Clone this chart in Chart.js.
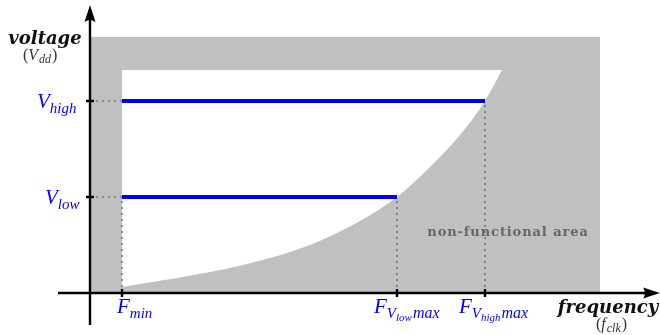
<!DOCTYPE html>
<html>
<head>
<meta charset="utf-8">
<script src="https://cdn.jsdelivr.net/npm/chart.js@4"></script>
<style>
  html, body { margin: 0; padding: 0; background: #fff; }
  #wrap { width: 660px; height: 335px; }
</style>
</head>
<body>
<div id="wrap"><canvas id="fv" width="660" height="335"></canvas></div>
<script>
// operating range of the clock (arbitrary units, origin at the axes crossing)
var fMin = 32
var fVlowMax = 307
var fVhighMax = 395
var vLow = 96
var vHigh = 192
var vTop = 223        // upper edge of the functional region
var areaWidth = 510   // extent of the grey shaded box
var areaHeight = 256

// max frequency boundary: voltage needed for each frequency
var boundaryFreq = [32, 87, 153, 220, 270, 307, 340, 370, 395, 412]
var boundaryVolt = [6, 15, 28, 48, 72, 96, 126, 158, 192, 223]

var freqTicks = [fMin, fVlowMax, fVhighMax]
var voltTicks = [vLow, vHigh]

var pts = (xs, ys) => xs.map((x, i) => ({x: x, y: ys[i]}))

var blue = "#0000ff"
var dotted = {borderColor: "#555", borderWidth: 1.2, borderDash: [2, 4], pointRadius: 0, fill: false, order: 3}

var serif = "'Liberation Serif', 'DejaVu Serif', serif"
var wide = "'DejaVu Serif', serif"

// text with a subscript, optionally with a nested subscript part
function subText(ctx, x, y, main, sub, color, size, subsub, tail) {
  ctx.fillStyle = color
  ctx.textBaseline = "alphabetic"
  ctx.textAlign = "left"
  ctx.font = "italic " + size + "px " + serif
  ctx.fillText(main, x, y)
  x += ctx.measureText(main).width
  var ss = Math.round(size * 0.7)
  ctx.font = "italic " + ss + "px " + serif
  ctx.fillText(sub, x, y + size * 0.25)
  x += ctx.measureText(sub).width
  if (subsub) {
    ctx.font = "italic " + Math.round(ss * 0.75) + "px " + serif
    ctx.fillText(subsub, x, y + size * 0.4)
    x += ctx.measureText(subsub).width
  }
  if (tail) {
    ctx.font = "italic " + (ss + 1) + "px " + serif
    ctx.fillText(tail, x + 1, y + size * 0.25)
  }
}

// "(X_sub)" under an axis title
function unitText(ctx, x, y, sym, sub) {
  ctx.fillStyle = "#333"
  ctx.textAlign = "left"
  ctx.font = "16px " + serif
  ctx.fillText("(", x, y); x += ctx.measureText("(").width
  ctx.font = "italic 16px " + serif
  ctx.fillText(sym, x, y); x += ctx.measureText(sym).width + 1
  ctx.font = "italic 12px " + serif
  ctx.fillText(sub, x, y + 3); x += ctx.measureText(sub).width + 1
  ctx.font = "16px " + serif
  ctx.fillText(")", x, y)
}

var axesPlugin = {
  id: "axes",
  afterDatasetsDraw(chart) {
    var ctx = chart.ctx
    var sx = chart.scales.x, sy = chart.scales.y
    var ox = sx.getPixelForValue(0), oy = sy.getPixelForValue(0)
    ctx.save()
    ctx.strokeStyle = "#000"
    ctx.fillStyle = "#000"
    ctx.lineWidth = 2.4
    ctx.beginPath()
    ctx.moveTo(ox, sy.getPixelForValue(-32))
    ctx.lineTo(ox, sy.getPixelForValue(276))
    ctx.moveTo(sx.getPixelForValue(-32), oy)
    ctx.lineTo(sx.getPixelForValue(558), oy)
    ctx.stroke()
    // arrow heads
    var top = sy.getPixelForValue(288), right = sx.getPixelForValue(570)
    ctx.beginPath()
    ctx.moveTo(ox, top)
    ctx.lineTo(ox - 5.5, top + 17)
    ctx.quadraticCurveTo(ox, top + 13, ox + 5.5, top + 17)
    ctx.closePath()
    ctx.fill()
    ctx.beginPath()
    ctx.moveTo(right, oy)
    ctx.lineTo(right - 17, oy - 5.5)
    ctx.quadraticCurveTo(right - 13, oy, right - 17, oy + 5.5)
    ctx.closePath()
    ctx.fill()
    // tick marks
    ctx.beginPath()
    voltTicks.forEach(v => {
      var p = sy.getPixelForValue(v)
      ctx.moveTo(ox - 4, p); ctx.lineTo(ox + 4, p)
    })
    freqTicks.forEach(f => {
      var p = sx.getPixelForValue(f)
      ctx.moveTo(p, oy - 4); ctx.lineTo(p, oy + 4)
    })
    ctx.stroke()

    // axis titles
    ctx.fillStyle = "#111"
    ctx.textAlign = "center"
    ctx.textBaseline = "alphabetic"
    ctx.font = "italic bold 18px " + wide
    ctx.fillText("voltage", 45, 44)
    ctx.fillText("frequency", 608, 313)
    unitText(ctx, 23, 60, "V", "dd")
    unitText(ctx, 596, 329, "f", "clk")

    // value labels
    subText(ctx, 37, sy.getPixelForValue(vHigh) + 7, "V", "high", blue, 21)
    subText(ctx, 45, sy.getPixelForValue(vLow) + 7, "V", "low", blue, 21)
    subText(ctx, 117, 313, "F", "min", blue, 21)
    subText(ctx, 374, 313, "F", "V", blue, 21, "low", "max")
    subText(ctx, 459, 313, "F", "V", blue, 21, "high", "max")

    ctx.fillStyle = "#666"
    ctx.textAlign = "center"
    ctx.font = "bold 13px " + wide
    ctx.letterSpacing = "0.9px"
    ctx.fillText("non-functional area", 508, 236)
    ctx.restore()
  }
}

new Chart("fv", {
  type: "line",
  data: {
    datasets: [
      {
        // shaded box behind everything
        data: pts([0, areaWidth], [areaHeight, areaHeight]),
        borderWidth: 0, pointRadius: 0,
        backgroundColor: "#c0c0c0", fill: "origin", order: 6
      },
      {
        // functional region: above the boundary curve, below vTop
        data: pts(boundaryFreq, boundaryVolt),
        borderWidth: 0, borderColor: "rgba(0,0,0,0)", pointRadius: 0,
        backgroundColor: "#fff", fill: {value: vTop},
        cubicInterpolationMode: "monotone", order: 5
      },
      Object.assign({data: pts([0, fMin], [vHigh, vHigh])}, dotted),
      Object.assign({data: pts([0, fMin], [vLow, vLow])}, dotted),
      Object.assign({data: pts([fMin, fMin], [0, vLow])}, dotted),
      Object.assign({data: pts([fVlowMax, fVlowMax], [0, vLow])}, dotted),
      Object.assign({data: pts([fVhighMax, fVhighMax], [0, vHigh])}, dotted),
      {
        data: pts([fMin, fVhighMax], [vHigh, vHigh]),
        borderColor: blue, borderWidth: 4, pointRadius: 0, fill: false, order: 1
      },
      {
        data: pts([fMin, fVlowMax], [vLow, vLow]),
        borderColor: blue, borderWidth: 4, pointRadius: 0, fill: false, order: 1
      }
    ]
  },
  options: {
    responsive: false,
    animation: false,
    layout: {padding: 0},
    plugins: {legend: {display: false}, tooltip: {enabled: false}},
    scales: {
      x: {type: "linear", display: false, min: -90, max: 570},
      y: {type: "linear", display: false, min: -42, max: 293}
    }
  },
  plugins: [axesPlugin]
})
</script>
</body>
</html>
